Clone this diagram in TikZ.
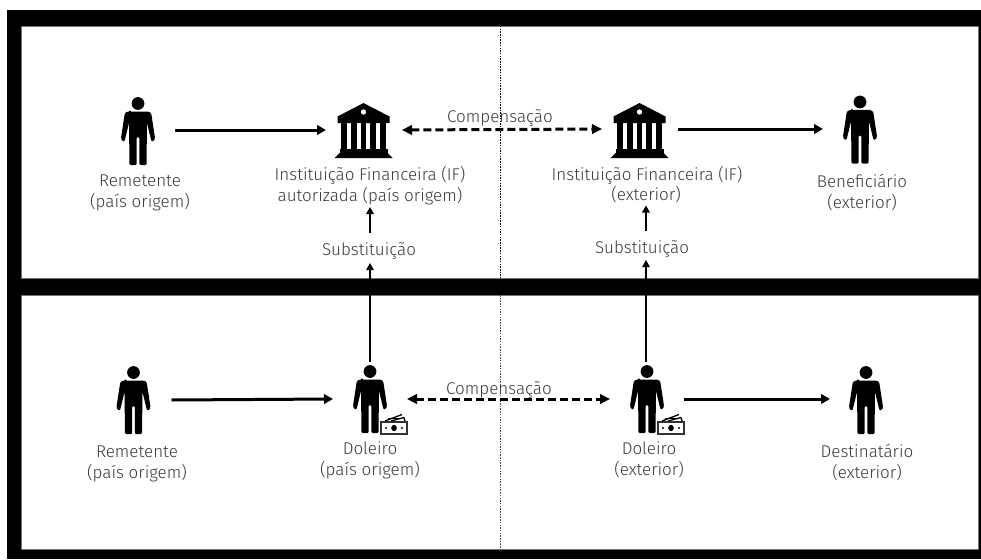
\documentclass[tikz,border=0pt]{standalone}
\usepackage{fontspec}
\setmainfont{Fira Sans}[UprightFont=* Light]
\usetikzlibrary{arrows.meta}
\definecolor{txt}{HTML}{3A3A3A}
\tikzset{
  x=1pt,y=-1pt,
  lbl/.style={font=\fontsize{17}{21}\selectfont,text=txt,align=center,inner sep=0pt},
  hub/.style={inner sep=0pt,outer sep=0pt,minimum width=#1,minimum height=74pt},
  solidarrow/.style={line width=3pt,-{Triangle[length=9pt,width=9.5pt]}},
  flowarrow/.style={line width=1.6pt,-{Triangle[length=7pt,width=7.5pt]}},
  thinarrow/.style={line width=1.2pt,-{Triangle[length=7pt,width=7.5pt]}},
  dasharrow/.style={line width=3pt,dash pattern=on 8pt off 4pt,{Triangle[length=10pt,width=9.5pt]}-{Triangle[length=10pt,width=9.5pt]}},
  person/.pic={
    \fill (0,6.5) circle (6.4);
    \fill[rounded corners=1.2pt] (-8,14.5) -- (8,14.5) .. controls (11.5,14.5) and (13,16) .. (13.5,18)
      -- (17,41) -- (16,44) -- (13.5,44.5) -- (9,26) -- (8.5,68) -- (1.3,68) -- (1.3,40) -- (-1.3,40)
      -- (-1.3,68) -- (-8.5,68) -- (-9,26) -- (-13.5,44.5) -- (-16,44) -- (-17,41) -- (-13.5,18)
      .. controls (-13,16) and (-11.5,14.5) .. (-8,14.5) -- cycle;
  },
  bank/.pic={
    \fill[even odd rule] (0,0) -- (26,13.5) -- (26,20) -- (-26,20) -- (-26,13.5) -- cycle (2.8,9) arc (0:360:2.8);
    \foreach \cx in {-19.5,-9.7,0,9.7,19.5} \fill (\cx-2.9,20) rectangle (\cx+2.9,46);
    \fill (-24,46) rectangle (24,50);
    \fill (-24,50) -- (24,50) -- (29,55) -- (-29,55) -- cycle;
  },
  money/.pic={
    \draw[line width=1.2pt,draw=black!80] (0,0) rectangle (26,12);
    \fill (13,6) ellipse (2.8 and 3.2);
    \fill (5,6) circle (1.1) (21,6) circle (1.1);
    \draw[line width=1.3pt] (4,-1) -- (21,-7.5) (10,-1) -- (23,-4.5) (23,-4.5) -- (24,-1);
    \draw[line width=1pt] (7,-3.5) -- (20,-3.5);
  }
}
\begin{document}
\begin{tikzpicture}
\useasboundingbox (0,0) rectangle (981,559);
\fill[white] (0,0) rectangle (981,559);
\fill[black] (7,10) rectangle (981,559);
\draw[black!55,line width=0.6pt,fill=white] (21,26) rectangle (978,278);
\draw[black!55,line width=0.6pt,fill=white] (21,295) rectangle (978,549);
\draw[black,line width=0.7pt,dash pattern=on 1.5pt off 1.2pt] (500,26) -- (500,278);
\draw[black!70,line width=0.8pt,dash pattern=on 1.5pt off 1.2pt] (500,295) -- (500,549);

% hubs
\node[hub=74pt] (rem1) at (138,130) {};
\node[hub=76pt] (if1) at (364,130) {};
\node[hub=76pt] (if2) at (640,129) {};
\node[hub=74pt] (ben) at (860,129) {};
\node[hub=76pt] (rem2) at (133.5,400) {};
\node[hub=74pt] (dol1) at (370,399) {};
\node[hub=74pt] (dol2) at (647,399) {};
\node[hub=72pt] (des) at (866,399) {};

% icons
\pic at (138,97) {person};
\pic at (363.5,103) {bank};
\pic at (639.5,103) {bank};
\pic at (860,95.5) {person};
\pic at (133.5,366) {person};
\pic at (370,365) {person};
\pic at (381,422) {money};
\pic at (647,365) {person};
\pic at (658,422) {money};
\pic at (866,366) {person};

% labels
\node[lbl] (l1) at (140,192.5) {Remetente\\(país origem)};
\node[lbl] (l2) at (370,185.5) {Instituição Financeira (IF)\\autorizada (país origem)};
\node[lbl] (l3a) at (647,175) {Instituição Financeira (IF)};
\node[lbl] (l3b) at (646,194.5) {(exterior)};
\node[lbl] (l4) at (862,193) {Beneficiário\\(exterior)};
\node[lbl] (l5) at (137,463.5) {Remetente\\(país origem)};
\node[lbl] (l6) at (370,460) {Doleiro\\(país origem)};
\node[lbl] (l7) at (649,460) {Doleiro\\(exterior)};
\node[lbl] (l8) at (867,462.5) {Destinatário\\(exterior)};
\node[lbl] (c1) at (500,118) {Compensação};
\node[lbl] (c2) at (499,390) {Compensação};
\node[lbl,minimum height=30pt] (s1) at (369,251) {Substituição};
\node[lbl,minimum height=30pt] (s2) at (642,248.5) {Substituição};

\coordinate (t1) at (370,207);
\coordinate (t2) at (646,205.5);
\coordinate (s1b) at (370,263);
\coordinate (s1t) at (370,233);
\coordinate (s2b) at (646,260);
\coordinate (s2t) at (646,231);
\coordinate (d1t) at (370,362);
\coordinate (d2t) at (646,362);

% connectors
\draw[solidarrow] (rem1.east) -- (if1.west);
\draw[dasharrow] (if1.east) -- (if2.west);
\draw[solidarrow] (if2.east) -- (ben.west);
\draw[solidarrow] (rem2.east) -- (dol1.west);
\draw[dasharrow] (dol1.east) -- (dol2.west);
\draw[solidarrow] (dol2.east) -- (des.west);
\draw[thinarrow] (d1t) -- (s1b);
\draw[flowarrow] (s1t) -- (t1);
\draw[thinarrow] (d2t) -- (s2b);
\draw[flowarrow] (s2t) -- (t2);
\end{tikzpicture}
\end{document}
